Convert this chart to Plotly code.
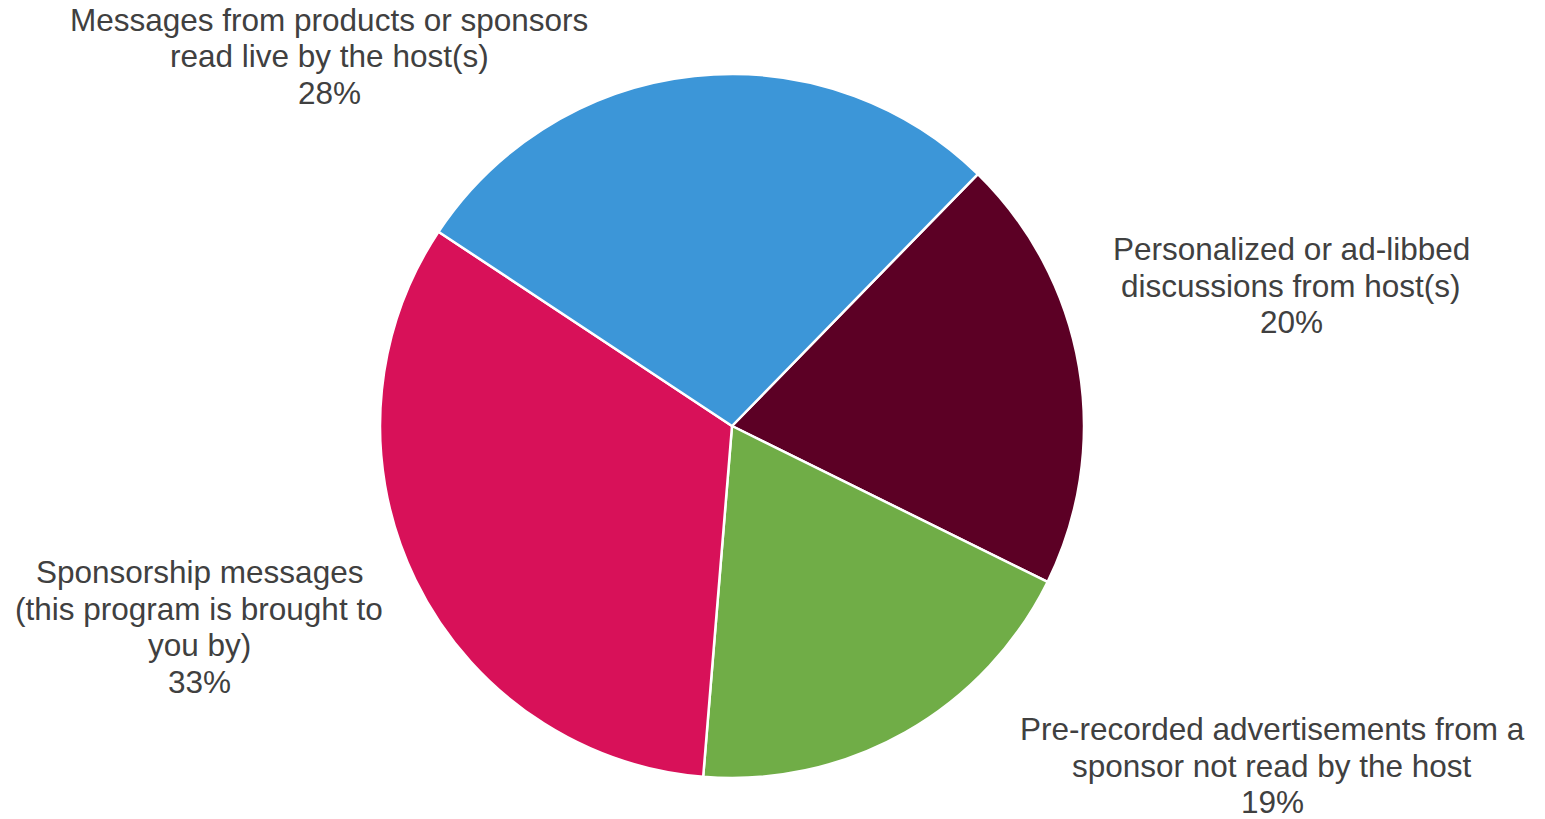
import plotly.graph_objects as go

# Slice data, in clockwise order starting from the upper-right boundary
categories = [
    "Personalized or ad-libbed discussions from host(s)",
    "Pre-recorded advertisements from a sponsor not read by the host",
    "Sponsorship messages (this program is brought to you by)",
    "Messages from products or sponsors read live by the host(s)",
]
shares = [20, 19, 33, 28]

# Wrapped label lines shown beside each slice
label_lines = [
    ["Personalized or ad-libbed", "discussions from host(s)"],
    ["Pre-recorded advertisements from a", "sponsor not read by the host"],
    ["Sponsorship messages", "(this program is brought to", "you by)"],
    ["Messages from products or sponsors", "read live by the host(s)"],
]

slice_colors = ["#5C0025", "#70AD47", "#D81159", "#3C96D8"]

W, H = 1545, 819
cx, cy, r = 732, 426, 352

# Label block placement (pixel centre x, first baseline y)
label_pos = [(1291, 260), (1272, 740), (199, 583), (329, 31)]
line_pitch = 36.5
font_size = 31.5
text_color = "#404040"

fig = go.Figure()
fig.add_trace(go.Pie(
    labels=categories,
    values=shares,
    sort=False,
    direction="clockwise",
    rotation=44.3,
    marker=dict(colors=slice_colors, line=dict(color="white", width=2.5)),
    textinfo="none",
    hoverinfo="label+percent",
    domain=dict(x=[(cx - r) / W, (cx + r) / W],
                y=[1 - (cy + r) / H, 1 - (cy - r) / H]),
    showlegend=False,
))

annotations = []
for lines, share, (px, py) in zip(label_lines, shares, label_pos):
    for i, line in enumerate(lines + [f"{share}%"]):
        base = py + i * line_pitch
        annotations.append(dict(
            text=line, x=px / W, y=1 - (base - 11) / H,
            xref="paper", yref="paper", xanchor="center", yanchor="middle",
            showarrow=False,
            font=dict(family="Liberation Sans, Arial, sans-serif", size=font_size, color=text_color),
        ))

fig.update_layout(
    width=W, height=H,
    margin=dict(l=0, r=0, t=0, b=0),
    paper_bgcolor="white", plot_bgcolor="white",
    annotations=annotations,
)

fig.write_html("out.html")
